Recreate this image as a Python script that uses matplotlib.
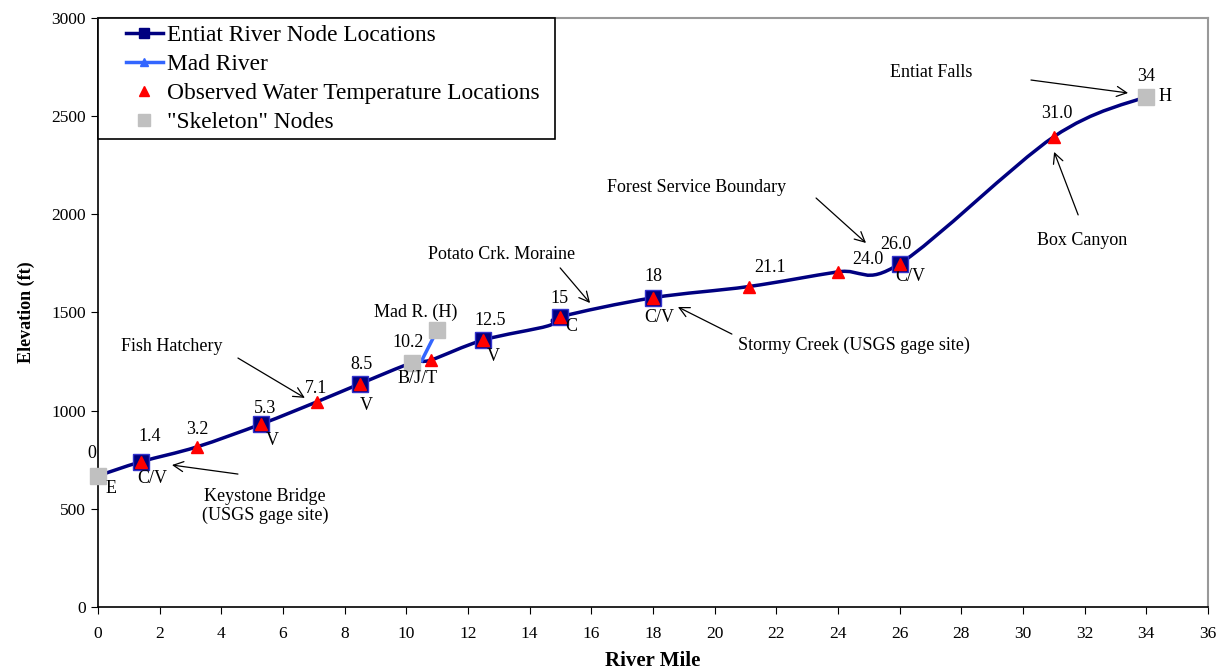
import numpy as np
import matplotlib
matplotlib.use("Agg")
import matplotlib.pyplot as plt
from matplotlib.path import Path
from matplotlib.patches import PathPatch
from matplotlib.lines import Line2D
from matplotlib.legend_handler import HandlerLine2D

plt.rcParams['font.family'] = ['Liberation Serif', 'DejaVu Serif']

# main river profile (river mile, elevation ft)
river_mile = [0, 1.4, 3.2, 5.3, 7.1, 8.5, 10.2, 10.8, 12.5, 14.6, 15, 18, 21.1, 24.0, 26.0, 31.0, 34]
river_elev = [668, 740, 815, 932, 1045, 1137, 1245, 1258, 1360, 1432, 1478, 1575, 1632, 1707, 1748, 2395, 2600]

# node locations (squares)
node_mile = [1.4, 5.3, 8.5, 12.5, 15, 18, 26.0]
node_elev = [740, 932, 1137, 1360, 1478, 1575, 1748]

# observed water temperature locations
temp_mile = [1.4, 3.2, 5.3, 7.1, 8.5, 10.8, 12.5, 15, 18, 21.1, 24.0, 26.0, 31.0]
temp_elev = [740, 815, 932, 1045, 1137, 1258, 1360, 1478, 1575, 1632, 1707, 1748, 2395]

# skeleton nodes
skel_mile = [0, 10.2, 11.0, 34]
skel_elev = [668, 1245, 1410, 2600]

# Mad River
mad_mile = [10.5, 11.0]
mad_elev = [1255, 1410]

# point labels: (text, x, y)
num_labels = [("0", -0.19, 784), ("1.4", 1.69, 866), ("3.2", 3.21, 902), ("5.3", 5.42, 1009),
              ("7.1", 7.07, 1115), ("8.5", 8.56, 1233), ("10.2", 10.06, 1345), ("12.5", 12.71, 1457),
              ("15", 14.98, 1569), ("18", 18.03, 1681), ("21.1", 21.80, 1727), ("24.0", 24.98, 1772),
              ("26.0", 25.88, 1844), ("31.0", 31.11, 2516), ("34", 33.99, 2700)]
code_labels = [("E", 0.42, 606), ("C/V", 1.75, 652), ("V", 5.64, 846), ("V", 8.69, 1024),
               ("B/J/T", 10.38, 1166), ("V", 12.81, 1278), ("C", 15.34, 1431), ("C/V", 18.20, 1472),
               ("C/V", 26.34, 1681), ("H", 34.61, 2598)]

# annotations: text, text position, arrow tail, arrow head
notes = [("Fish Hatchery", (2.40, 1329), (4.54, 1268), (6.71, 1065)),
         ("Keystone Bridge\n(USGS gage site)", (5.42, 514), (4.54, 677), (2.40, 723)),
         ("Mad R. (H)", (10.31, 1503), None, None),
         ("Potato Crk. Moraine", (13.10, 1793), (14.99, 1727), (15.96, 1548)),
         ("Forest Service Boundary", (19.40, 2139), (23.29, 2083), (24.91, 1854)),
         ("Stormy Creek (USGS gage site)", (24.52, 1334), (20.56, 1390), (18.81, 1528)),
         ("Entiat Falls", (27.02, 2720), (30.26, 2684), (33.41, 2618)),
         ("Box Canyon", (31.92, 1869), (31.79, 1997), (31.01, 2318))]


def smooth_path(xs, ys):
    # Excel style smoothed line as cubic bezier segments
    pts = np.column_stack([xs, ys]).astype(float)
    ext = np.vstack([pts[0], pts, pts[-1]])
    verts = [pts[0]]
    codes = [Path.MOVETO]
    for i in range(len(pts) - 1):
        p0, p1, p2, p3 = ext[i], ext[i + 1], ext[i + 2], ext[i + 3]
        c1 = p1 + (p2 - p0) / 6
        c2 = p2 - (p3 - p1) / 6
        verts += [c1, c2, p2]
        codes += [Path.CURVE4] * 3
    return Path(verts, codes)


class ShiftedHandler(HandlerLine2D):
    # draw the legend handle in the right part of the handle box
    def get_xdata(self, legend, xdescent, ydescent, width, height, fontsize):
        x0 = -xdescent + 0.37 * width
        x1 = -xdescent + width
        return [x0, x1], [(x0 + x1) / 2]


fig = plt.figure(figsize=(12.23, 6.71), dpi=100)
ax = fig.add_axes([0.0801, 0.0954, 0.9076, 0.8778])

navy = '#000080'
ax.add_patch(PathPatch(smooth_path(river_mile, river_elev), fill=False, edgecolor=navy, lw=2.5, zorder=2))
ax.plot(mad_mile, mad_elev, color='#3366ff', lw=2.5, zorder=2)
ax.plot(node_mile, node_elev, 's', ms=11, mfc=navy, mec='#3333cc', mew=1, zorder=3)
ax.plot(temp_mile, temp_elev, '^', ms=8, mfc='red', mec='red', zorder=4)
ax.plot(skel_mile, skel_elev, 's', ms=11, mfc='#c0c0c0', mec='#c0c0c0', zorder=3, clip_on=False)

for t, x, y in num_labels + code_labels:
    ax.text(x, y, t, fontsize=13, ha='center', va='center')

for t, tpos, tail, head in notes:
    ax.text(tpos[0], tpos[1], t, fontsize=13, ha='center', va='center', linespacing=1.1)
    if tail is not None:
        ax.annotate('', xy=head, xytext=tail,
                    arrowprops=dict(arrowstyle='->', color='black', lw=0.9, mutation_scale=18,
                                    shrinkA=0, shrinkB=0))

ax.set_xlim(0, 36)
ax.set_ylim(0, 3000)
ax.set_xticks(np.arange(0, 37, 2))
ax.set_yticks(np.arange(0, 3001, 500))
ax.tick_params(direction='out', length=5, labelsize=12.5, top=False, right=False)
ax.tick_params(axis='x', pad=9)
for s in ['top', 'right']:
    ax.spines[s].set_color('#999999')
    ax.spines[s].set_linewidth(1.5)
for s in ['left', 'bottom']:
    ax.spines[s].set_linewidth(1.2)

ax.set_xlabel('River Mile', fontsize=15, fontweight='bold', labelpad=6)
ax.set_ylabel('Elevation (ft)', fontsize=13, fontweight='bold', labelpad=12)

handles = [Line2D([], [], color=navy, lw=2.5, marker='s', ms=7, mfc=navy, mec=navy),
           Line2D([], [], color='#3366ff', lw=2.5, marker='^', ms=6, mfc='#3366ff', mec='#3366ff'),
           Line2D([], [], ls='', marker='^', ms=7, mfc='red', mec='red'),
           Line2D([], [], ls='', marker='s', ms=8, mfc='#c0c0c0', mec='#c0c0c0')]
labels = ['Entiat River Node Locations', 'Mad River', 'Observed Water Temperature Locations',
          '"Skeleton" Nodes']
leg = ax.legend(handles, labels, loc='upper left', bbox_to_anchor=(0, 0.5, 457 / 1110, 0.5),
                mode='expand', borderaxespad=0, fancybox=False, framealpha=1, edgecolor='black',
                fontsize=16.8, handlelength=2.5, handletextpad=0.2, labelspacing=0.33, borderpad=0.28,
                handler_map={Line2D: ShiftedHandler()})
leg.get_frame().set_linewidth(1.2)

fig.savefig('out.png', dpi=100)
